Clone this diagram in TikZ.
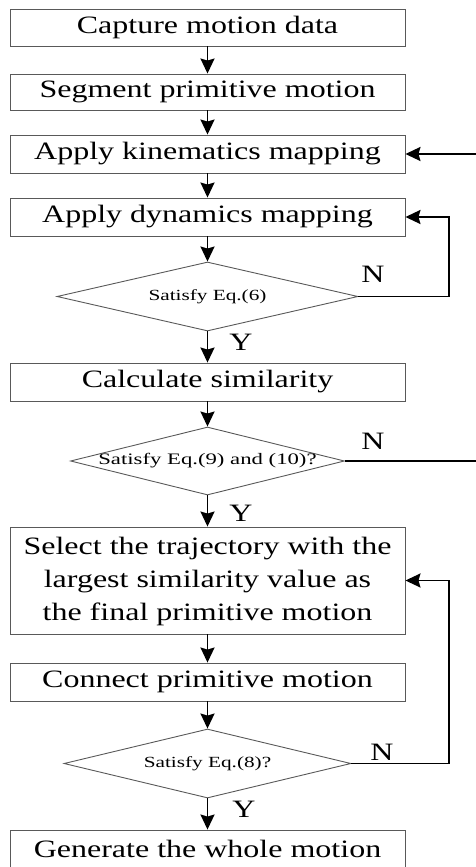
\documentclass[tikz,border=0pt]{standalone}
\usepackage{graphicx}
\usepackage{fontspec}
\setmainfont{Liberation Serif}
\usetikzlibrary{shapes.geometric,arrows.meta}
\newcommand{\bigtxt}[1]{\fontsize{25}{33}\selectfont\scalebox{1.28}[1]{#1}}
\newcommand{\smalltxt}[2]{\fontsize{#1}{#1}\selectfont\scalebox{1.37}[1]{#2}}
\begin{document}
\begin{tikzpicture}[x=1pt,y=-1pt,
  box/.style={draw=black!65,line width=0.9pt,rectangle,minimum width=395pt,inner sep=0pt,align=center},
  dia/.style={draw=black!65,line width=0.9pt,diamond,inner sep=0pt},
  arr/.style={line width=1.9pt,-{Stealth[length=15pt,width=14pt,inset=2pt]}},
  ln/.style={line width=1.9pt},
  lab/.style={inner sep=0pt,font=\fontsize{25}{28}\selectfont}]
\useasboundingbox (0,0) rectangle (475,867);
% boxes
\node[box,minimum height=37pt] (b1) at (207.5,27.5) {\bigtxt{Capture motion data}};
\node[box,minimum height=36pt] (b2) at (207.5,92) {\bigtxt{Segment primitive motion}};
\node[box,minimum height=38pt] (b3) at (207.5,154) {\bigtxt{Apply kinematics mapping}};
\node[box,minimum height=38pt] (b4) at (207.5,217) {\bigtxt{Apply dynamics mapping}};
\node[dia,minimum width=301pt,minimum height=69pt] (d1) at (207.5,296.5) {\smalltxt{15.5}{\makebox[0pt]{Satisfy Eq.(6)}}};
\node[box,minimum height=38pt] (b5) at (207.5,382) {\bigtxt{Calculate similarity}};
\node[dia,minimum width=274pt,minimum height=68pt] (d2) at (207.5,461) {\fontsize{16}{16}\selectfont\scalebox{1.42}[1]{\makebox[0pt]{Satisfy Eq.(9) and (10)?}}};
\node[box,minimum height=107pt] (b6) at (207.5,580.5) {\bigtxt{\begin{tabular}{@{}c@{}}Select the trajectory with the\\largest similarity value as\\the final primitive motion\end{tabular}}};
\node[box,minimum height=38pt] (b7) at (207.5,682) {\bigtxt{Connect primitive motion}};
\node[dia,minimum width=287pt,minimum height=69pt] (d3) at (207.5,763.5) {\smalltxt{15.5}{\makebox[0pt]{Satisfy Eq.(8)?}}};
\node[box,minimum height=38pt] (b8) at (207.5,849) {\bigtxt{Generate the whole motion}};
% labels
\node[lab] (n1) at (373,274) {\scalebox{1.28}[1]{N}};
\node[lab] (y1) at (241,342) {\scalebox{1.28}[1]{Y}};
\node[lab] (n2) at (373,441) {\scalebox{1.28}[1]{N}};
\node[lab] (y2) at (241,513) {\scalebox{1.28}[1]{Y}};
\node[lab] (n3) at (382,752) {\scalebox{1.28}[1]{N}};
\node[lab] (y3) at (244,809) {\scalebox{1.28}[1]{Y}};
% coordinates
\coordinate (c1) at (449,296.5);
\coordinate (c3) at (449,763.5);
\coordinate (e1) at (476,154);
\coordinate (e2) at (476,461);
% main flow
\draw[arr] (b1) -- (b2);
\draw[arr] (b2) -- (b3);
\draw[arr] (b3) -- (b4);
\draw[arr] (b4) -- (d1);
\draw[arr] (d1) -- (b5);
\draw[arr] (b5) -- (d2);
\draw[arr] (d2) -- (b6);
\draw[arr] (b6) -- (b7);
\draw[arr] (b7) -- (d3);
\draw[arr] (d3) -- (b8);
% loops
\draw[arr] (d1.east) -- (c1) |- (b4.east);
\draw[ln] (d2.east) -- (e2);
\draw[arr] (e1) -- (b3.east);
\draw[arr] (d3.east) -- (c3) |- (b6.east);
\end{tikzpicture}
\end{document}
